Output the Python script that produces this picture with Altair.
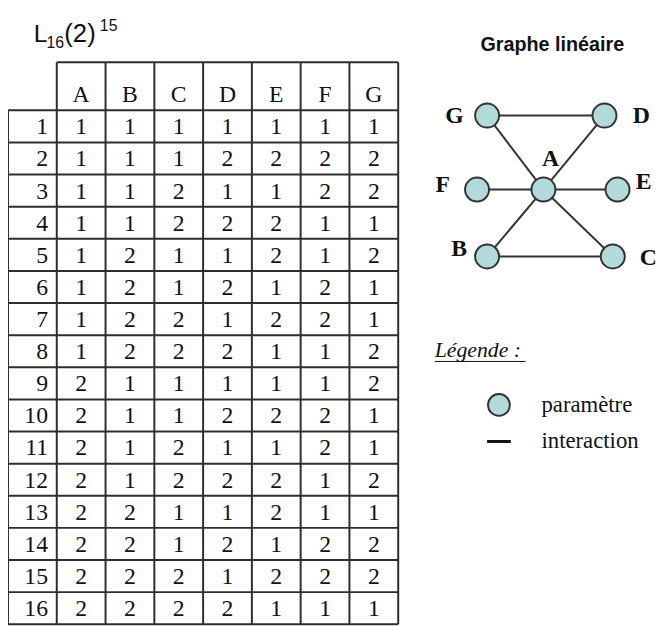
import altair as alt
import pandas as pd

# ---------------- data ----------------
columns = ["A", "B", "C", "D", "E", "F", "G"]
runs = list(range(1, 17))
col_A = [1, 1, 1, 1, 1, 1, 1, 1, 2, 2, 2, 2, 2, 2, 2, 2]
col_B = [1, 1, 1, 1, 2, 2, 2, 2, 1, 1, 1, 1, 2, 2, 2, 2]
col_C = [1, 1, 2, 2, 1, 1, 2, 2, 1, 1, 2, 2, 1, 1, 2, 2]
col_D = [1, 2, 1, 2, 1, 2, 1, 2, 1, 2, 1, 2, 1, 2, 1, 2]
col_E = [1, 2, 1, 2, 2, 1, 2, 1, 1, 2, 1, 2, 2, 1, 2, 1]
col_F = [1, 2, 2, 1, 1, 2, 2, 1, 1, 2, 2, 1, 1, 2, 2, 1]
col_G = [1, 2, 2, 1, 2, 1, 1, 2, 2, 1, 1, 2, 1, 2, 2, 1]

# linear graph (graph units)
node_names = ["G", "D", "F", "A", "E", "B", "C"]
node_u = [-0.95, 1.03, -1.12, 0.0, 1.25, -0.95, 1.17]
node_v = [1.04, 1.04, 0.0, 0.0, 0.0, -0.94, -0.94]
label_u = [-1.50, 1.65, -1.70, 0.12, 1.69, -1.42, 1.77]
label_v = [1.04, 1.04, 0.07, 0.43, 0.11, -0.83, -0.97]
edges_from = ["G", "B", "G", "D", "F", "A", "B", "C"]
edges_to = ["D", "C", "A", "A", "A", "E", "A", "A"]

# ---------------- tables ----------------
values = [col_A, col_B, col_C, col_D, col_E, col_F, col_G]
cells = []
for ci, (name, vals) in enumerate(zip(columns, values)):
    for r, v in zip(runs, vals):
        cells.append({"cx": ci + 1.5, "cy": r - 0.5, "t": str(v)})
cells_df = pd.DataFrame(cells)
rowlab_df = pd.DataFrame({"cx": [0.82] * len(runs), "cy": [r - 0.5 for r in runs], "t": [str(r) for r in runs]})
head_df = pd.DataFrame({"cx": [i + 1.5 for i in range(len(columns))], "cy": [-0.52] * len(columns), "t": columns})

lines = []
for k in range(len(columns) + 2):
    lines.append({"x": k, "x2": k, "y": (0 if k == 0 else -1.5), "y2": 16})
lines.append({"x": 1, "x2": 8, "y": -1.5, "y2": -1.5})
for r in range(0, 17):
    lines.append({"x": 0, "x2": 8, "y": r, "y2": r})
lines_df = pd.DataFrame(lines)

tx = alt.Scale(domain=[0, 8], range=[0, 395])
ty = alt.Scale(domain=[-1.5, 16], range=[51, 620])

grid = alt.Chart(lines_df).mark_rule(color="#2e2e2e", strokeWidth=2).encode(
    x=alt.X("x:Q", scale=tx, axis=None),
    x2="x2:Q",
    y=alt.Y("y:Q", scale=ty, axis=None),
    y2="y2:Q",
)
serif = "Liberation Serif"
fs = 24
cell_txt = alt.Chart(cells_df).mark_text(font=serif, fontSize=fs, color="#111", baseline="middle", dy=1).encode(
    x=alt.X("cx:Q", scale=tx, axis=None), y=alt.Y("cy:Q", scale=ty, axis=None), text="t:N"
)
row_txt = alt.Chart(rowlab_df).mark_text(font=serif, fontSize=fs, color="#111", baseline="middle", align="right", dy=1).encode(
    x=alt.X("cx:Q", scale=tx, axis=None), y=alt.Y("cy:Q", scale=ty, axis=None), text="t:N"
)
head_txt = alt.Chart(head_df).mark_text(font=serif, fontSize=fs, color="#111", baseline="middle", dy=1).encode(
    x=alt.X("cx:Q", scale=tx, axis=None), y=alt.Y("cy:Q", scale=ty, axis=None), text="t:N"
)
table = alt.layer(grid, cell_txt, row_txt, head_txt)

# ---------------- graph ----------------
gx = alt.Scale(domain=[-1, 1], range=[482, 602])
gy = alt.Scale(domain=[-1, 1], range=[252, 108])
pos = {n: (u, v) for n, u, v in zip(node_names, node_u, node_v)}
edges_df = pd.DataFrame({
    "x": [pos[a][0] for a in edges_from], "y": [pos[a][1] for a in edges_from],
    "x2": [pos[b][0] for b in edges_to], "y2": [pos[b][1] for b in edges_to],
})
nodes_df = pd.DataFrame({"n": node_names, "u": node_u, "v": node_v, "lu": label_u, "lv": label_v})

edges = alt.Chart(edges_df).mark_rule(color="#333", strokeWidth=2).encode(
    x=alt.X("x:Q", scale=gx, axis=None), x2="x2:Q",
    y=alt.Y("y:Q", scale=gy, axis=None), y2="y2:Q",
)
nodes = alt.Chart(nodes_df).mark_point(shape="circle", filled=True, size=590, fill="#b3dada",
                                       stroke="#333", strokeWidth=2, opacity=1).encode(
    x=alt.X("u:Q", scale=gx, axis=None), y=alt.Y("v:Q", scale=gy, axis=None)
)
labels = alt.Chart(nodes_df).mark_text(font=serif, fontSize=24, fontWeight="bold", color="#111", baseline="middle").encode(
    x=alt.X("lu:Q", scale=gx, axis=None), y=alt.Y("lv:Q", scale=gy, axis=None), text="n:N"
)
graph = alt.layer(edges, nodes, labels)

# ---------------- annotations ----------------
one = pd.DataFrame({"k": [0]})
sans = "Liberation Sans"


def txt(s, x, y, **kw):
    return alt.Chart(one).mark_text(text=s, align="left", baseline="alphabetic", **kw).encode(
        x=alt.value(x), y=alt.value(y))


ann = alt.layer(
    txt("L", 26, 31, font=sans, fontSize=25, color="#111"),
    txt("16", 39, 37, font=sans, fontSize=16, color="#111"),
    txt("(2)", 57, 31, font=sans, fontSize=26, color="#111"),
    txt("15", 93, 19, font=sans, fontSize=16, color="#111"),
    alt.Chart(one).mark_text(text="Graphe linéaire", align="center", baseline="alphabetic", font=sans,
                             fontSize=20, fontWeight="bold", color="#111").encode(x=alt.value(551), y=alt.value(40)),
    txt("Légende :", 432, 349, font=serif, fontSize=22, fontStyle="italic", color="#111"),
    alt.Chart(one).mark_rule(color="#111", strokeWidth=1).encode(x=alt.value(432), x2=alt.value(524), y=alt.value(354)),
    alt.Chart(one).mark_point(shape="circle", filled=True, size=490, fill="#b3dada", stroke="#333",
                              strokeWidth=2, opacity=1).encode(x=alt.value(497), y=alt.value(398)),
    alt.Chart(one).mark_rule(color="#111", strokeWidth=3).encode(x=alt.value(485), x2=alt.value(509), y=alt.value(435)),
    alt.Chart(one).mark_text(text="paramètre", align="left", baseline="middle", font=serif, fontSize=23,
                             color="#111").encode(x=alt.value(540), y=alt.value(398)),
    alt.Chart(one).mark_text(text="interaction", align="left", baseline="middle", font=serif, fontSize=23,
                             color="#111").encode(x=alt.value(540), y=alt.value(435)),
)

chart = alt.layer(table, graph, ann).resolve_scale(x="independent", y="independent").properties(
    width=660, height=620, autosize=alt.AutoSizeParams(type="none"), padding=0, background="white"
).configure_view(stroke=None)

chart.save("out.html", embed_options={"renderer": "svg", "actions": False})
